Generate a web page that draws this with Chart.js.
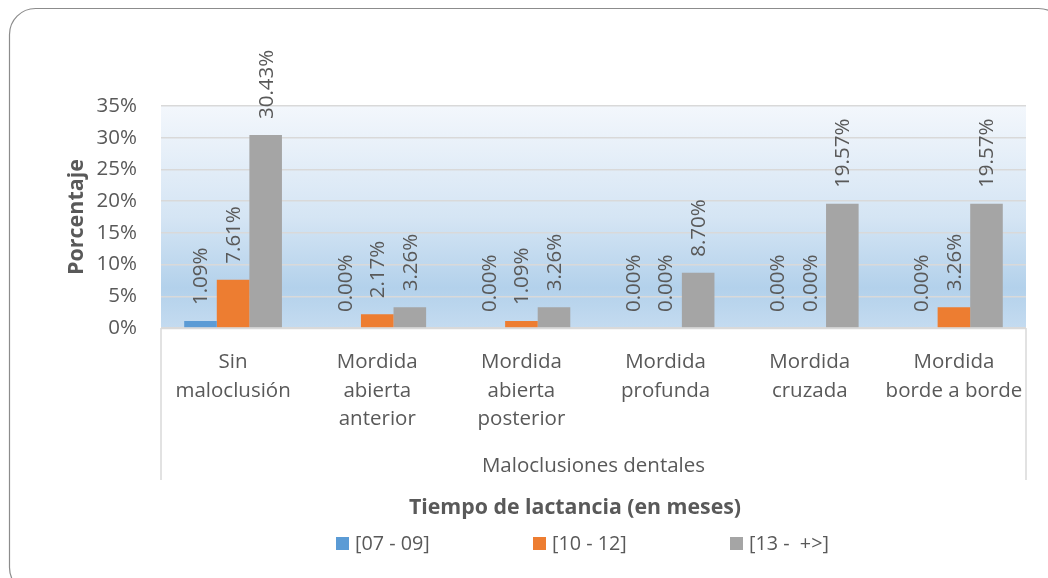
<!DOCTYPE html>
<html>
<head>
<meta charset="utf-8">
<script src="https://cdn.jsdelivr.net/npm/chart.js@4.4.0/dist/chart.umd.min.js"></script>
<style>
  html, body { margin: 0; padding: 0; background: #fff; }
  canvas { display: block; }
</style>
</head>
<body>
<canvas id="chart" width="1048" height="578"></canvas>
<script>
// chart data
var categories = [
    ['Sin', 'maloclusión'],
    ['Mordida', 'abierta', 'anterior'],
    ['Mordida', 'abierta', 'posterior'],
    ['Mordida', 'profunda'],
    ['Mordida', 'cruzada'],
    ['Mordida', 'borde a borde']
];
var seriesNames = ['[07 - 09]', '[10 - 12]', '[13 -  +>]'];
var serie0709 = [1.09, 0, 0, 0, 0, 0];
var serie1012 = [7.61, 2.17, 1.09, 0, 0, 3.26];
var serie13mas = [30.43, 3.26, 3.26, 8.70, 19.57, 19.57];
var yTicks = [0, 5, 10, 15, 20, 25, 30, 35];

var seriesColors = ['#5b9bd5', '#ed7d31', '#a5a5a5'];
var textColor = '#595959';
var fontFamily = '"Open Sans", "Noto Sans", sans-serif';

// background, plot area gradient and the outer rounded frame
var backgroundPlugin = {
    id: 'background',
    beforeDraw: function (chart) {
        var ctx = chart.ctx, a = chart.chartArea;
        ctx.save();
        ctx.fillStyle = '#ffffff';
        ctx.fillRect(0, 0, chart.width, chart.height);
        var g = ctx.createLinearGradient(0, a.top, 0, a.bottom);
        g.addColorStop(0, '#f3f7fc');
        g.addColorStop(0.5, '#d5e5f4');
        g.addColorStop(0.82, '#b3d1eb');
        g.addColorStop(1, '#c4dbf0');
        ctx.fillStyle = g;
        ctx.fillRect(a.left, a.top, a.right - a.left, a.bottom - a.top);
        ctx.restore();
    },
    afterDraw: function (chart) {
        var ctx = chart.ctx;
        ctx.save();
        ctx.strokeStyle = '#8c8c8c';
        ctx.lineWidth = 1.2;
        ctx.beginPath();
        ctx.roundRect(9.5, 8.5, 1055, 585, 26);
        ctx.stroke();
        ctx.restore();
    }
};

// multi-level category axis borders
var axisLinesPlugin = {
    id: 'axisLines',
    afterDraw: function (chart) {
        var ctx = chart.ctx, a = chart.chartArea, xs = chart.scales.x;
        ctx.save();
        ctx.strokeStyle = '#d9d9d9';
        ctx.lineWidth = 1.5;
        ctx.beginPath();
        ctx.moveTo(a.left, a.bottom);
        ctx.lineTo(a.left, xs.bottom + 2);
        ctx.moveTo(a.right, a.bottom);
        ctx.lineTo(a.right, xs.bottom + 2);
        ctx.moveTo(a.left, a.bottom + 0.5);
        ctx.lineTo(a.right, a.bottom + 0.5);
        ctx.stroke();
        ctx.restore();
    }
};

// vertical value labels above each bar
var valueLabelsPlugin = {
    id: 'valueLabels',
    afterDatasetsDraw: function (chart) {
        var ctx = chart.ctx;
        ctx.save();
        ctx.fillStyle = textColor;
        ctx.font = '20.5px ' + fontFamily;
        ctx.textAlign = 'left';
        ctx.textBaseline = 'middle';
        chart.data.datasets.forEach(function (ds, i) {
            var meta = chart.getDatasetMeta(i);
            meta.data.forEach(function (bar, j) {
                ctx.save();
                ctx.translate(bar.x + 1, bar.y - 16);
                ctx.rotate(-Math.PI / 2);
                ctx.fillText(ds.data[j].toFixed(2) + '%', 0, 0);
                ctx.restore();
            });
        });
        ctx.restore();
    }
};

// legend with its title, drawn under the axis
var legendPlugin = {
    id: 'legendBottom',
    afterDraw: function (chart) {
        var ctx = chart.ctx;
        ctx.save();
        ctx.fillStyle = textColor;
        ctx.font = 'bold 21.3px ' + fontFamily;
        ctx.textAlign = 'center';
        ctx.textBaseline = 'middle';
        ctx.fillText('Tiempo de lactancia (en meses)', 575, 508);
        ctx.font = '19.8px ' + fontFamily;
        ctx.textAlign = 'left';
        chart.data.datasets.forEach(function (ds, i) {
            var x = 336 + i * 197;
            ctx.fillStyle = ds.backgroundColor;
            ctx.fillRect(x, 537, 13, 13);
            ctx.fillStyle = textColor;
            ctx.fillText(ds.label, x + 19, 544);
        });
        ctx.restore();
    }
};

var ctx = document.getElementById('chart');
var chart = new Chart(ctx, {
    type: 'bar',
    data: {
        labels: categories,
        datasets: [
            { label: seriesNames[0], data: serie0709, backgroundColor: seriesColors[0] },
            { label: seriesNames[1], data: serie1012, backgroundColor: seriesColors[1] },
            { label: seriesNames[2], data: serie13mas, backgroundColor: seriesColors[2] }
        ]
    },
    options: {
        responsive: false,
        animation: false,
        devicePixelRatio: 1,
        categoryPercentage: 0.678,
        barPercentage: 1,
        layout: {
            padding: { left: 20, right: 22, top: 106, bottom: 100 }
        },
        plugins: {
            legend: { display: false },
            tooltip: { enabled: false }
        },
        scales: {
            x: {
                grid: { display: false, drawTicks: false },
                border: { display: false },
                ticks: {
                    color: textColor,
                    font: { family: fontFamily, size: 20.5, lineHeight: 1.39 },
                    padding: 20,
                    maxRotation: 0,
                    autoSkip: false
                },
                title: {
                    display: true,
                    text: 'Maloclusiones dentales',
                    color: textColor,
                    font: { family: fontFamily, size: 20.5 },
                    padding: 0
                },
                afterFit: function (scale) { scale.height = 150; }
            },
            y: {
                min: 0,
                max: 35,
                afterBuildTicks: function (scale) {
                    scale.ticks = yTicks.map(function (v) { return { value: v }; });
                },
                grid: { color: '#d9d9d9', lineWidth: 1.5, drawTicks: false },
                border: { display: false },
                ticks: {
                    color: textColor,
                    font: { family: fontFamily, size: 20.5 },
                    padding: 24,
                    callback: function (v) { return v + '%'; }
                },
                title: {
                    display: true,
                    text: 'Porcentaje',
                    color: textColor,
                    font: { family: fontFamily, size: 21.5, weight: 'bold' },
                    padding: { top: 44, bottom: 0 }
                },
                afterFit: function (scale) { scale.width = 141; }
            }
        }
    },
    plugins: [backgroundPlugin, axisLinesPlugin, valueLabelsPlugin, legendPlugin]
});
</script>
</body>
</html>
